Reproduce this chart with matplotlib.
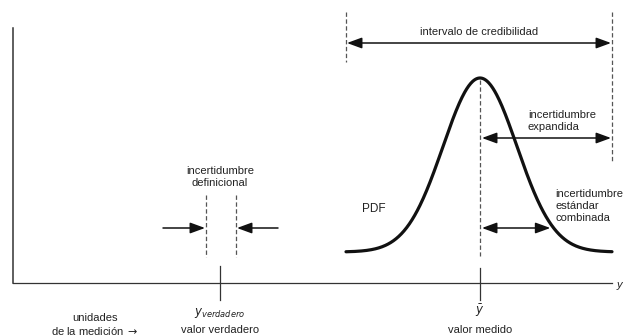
import numpy as np
import matplotlib
matplotlib.use('Agg')
import matplotlib.pyplot as plt

plt.rcParams['font.family'] = ['Liberation Sans', 'DejaVu Sans']

# Valores del esquema (unidades de la medición, en el eje horizontal)
y_verdadero = 220
y_medio = 480
sigma = 37
intervalo = [346, 612]
definicional = [206, 236]
pdf_altura = 174
pdf_base = 252
pdf_rango = [346, 612]

fig = plt.figure(figsize=(6.23, 3.36), dpi=100)
ax = fig.add_axes([0, 0, 1, 1])
ax.set_xlim(0, 623)
ax.set_ylim(336, 0)
ax.axis('off')

negro = '#111111'
gris = '#555555'
texto = '#222222'

# ejes
ax.plot([13, 13], [28, 283], color='#333333', lw=1.1)
ax.plot([13, 612], [283, 283], color='#333333', lw=0.9)
ax.text(617, 285, 'y', fontsize=8, style='italic', ha='left', va='center', color=texto)

# marcas en el eje
ax.plot([y_verdadero, y_verdadero], [266, 300], color='#333333', lw=0.9)
ax.plot([y_medio, y_medio], [268, 300], color='#333333', lw=0.9)

# PDF
x = np.linspace(pdf_rango[0], pdf_rango[1], 400)
pdf = pdf_base - pdf_altura * np.exp(-0.5 * ((x - y_medio) / sigma) ** 2)
ax.plot(x, pdf, color=negro, lw=2.3, solid_capstyle='round')
ax.text(362, 209, 'PDF', fontsize=8.5, ha='left', va='center', color=texto)

# líneas discontinuas
ax.plot([y_medio, y_medio], [80, 256], color=gris, lw=0.9, ls=(0, (3.5, 2)))
ax.plot([intervalo[0]] * 2, [12, 62], color=gris, lw=0.9, ls=(0, (3.5, 2)))
ax.plot([intervalo[1]] * 2, [12, 162], color=gris, lw=0.9, ls=(0, (3.5, 2)))
for xd in definicional:
    ax.plot([xd, xd], [195, 257], color=gris, lw=0.9, ls=(0, (3.5, 2)))

flecha = dict(arrowstyle='-|>,head_length=0.9,head_width=0.33', color=negro, lw=1.1,
              shrinkA=0, shrinkB=0)
doble = dict(arrowstyle='<|-|>,head_length=0.9,head_width=0.33', color=negro, lw=1.1,
             shrinkA=0, shrinkB=0)

# intervalo de credibilidad
ax.annotate('', xy=(intervalo[1] - 1, 43), xytext=(intervalo[0] + 1, 43), arrowprops=doble)
ax.text(np.mean(intervalo), 32, 'intervalo de credibilidad', fontsize=8, ha='center',
        va='center', color=texto)

# incertidumbre expandida
ax.annotate('', xy=(intervalo[1] - 1, 138), xytext=(y_medio + 2, 138), arrowprops=doble)
ax.text(528, 121, 'incertidumbre\nexpandida', fontsize=8, ha='left', va='center',
        linespacing=1.2, color=texto)

# incertidumbre estándar combinada
x_comb = y_medio + sigma * 1.9
ax.annotate('', xy=(x_comb, 228), xytext=(y_medio + 2, 228), arrowprops=doble)
ax.text(555, 206, 'incertidumbre\nestándar\ncombinada', fontsize=8, ha='left', va='center',
        linespacing=1.2, color=texto)

# incertidumbre definicional
ax.annotate('', xy=(definicional[0] - 1, 228), xytext=(163, 228), arrowprops=flecha)
ax.annotate('', xy=(definicional[1] + 1, 228), xytext=(278, 228), arrowprops=flecha)
ax.text(np.mean(definicional) - 1, 177, 'incertidumbre\ndefinicional', fontsize=8,
        ha='center', va='center', linespacing=1.2, color=texto)

# etiquetas inferiores
ax.text(y_verdadero, 313, r'$y_{verdadero}$', fontsize=8.5, ha='center', va='center',
        color=texto)
ax.text(y_verdadero, 330, 'valor verdadero', fontsize=8, ha='center', va='center',
        color=texto)
ax.text(y_medio, 311, r'$\bar{y}$', fontsize=8.5, ha='center', va='center', color=texto)
ax.text(y_medio, 330, 'valor medido', fontsize=8, ha='center', va='center', color=texto)
ax.text(95, 325, 'unidades\nde la medición $\\rightarrow$', fontsize=8, ha='center',
        va='center', linespacing=1.2, color=texto)

fig.savefig('out.png', dpi=100)
